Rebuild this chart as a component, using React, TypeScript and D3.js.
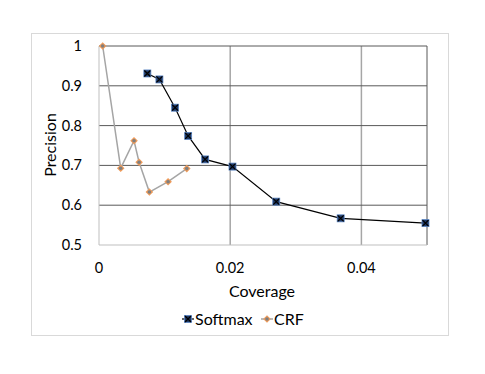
import * as d3 from "d3";

const softmaxX = [0.00737, 0.00921, 0.0116, 0.01359, 0.01618, 0.02035, 0.02702, 0.03684, 0.04977];
const softmaxY = [0.931, 0.916, 0.845, 0.774, 0.715, 0.697, 0.609, 0.567, 0.555];
const crfX = [0.00056, 0.00331, 0.00534, 0.00611, 0.00768, 0.01053, 0.01338];
const crfY = [1.0, 0.693, 0.762, 0.708, 0.633, 0.659, 0.692];
const xTicks = [0, 0.02, 0.04];
const yTicks = [0.5, 0.6, 0.7, 0.8, 0.9, 1];

const width = 485;
const height = 374;
const marginLeft = 99;
const marginRight = 58;
const marginTop = 46;
const marginBottom = 129;
const font = "Lato, 'Open Sans', sans-serif";

export default function App() {
  const x = d3.scaleLinear([0, 0.05], [marginLeft, width - marginRight]);
  const y = d3.scaleLinear([0.5, 1], [height - marginBottom, marginTop]);

  const softmax = softmaxX.map((v, i) => [v, softmaxY[i]] as [number, number]);
  const crf = crfX.map((v, i) => [v, crfY[i]] as [number, number]);
  const line = d3.line<[number, number]>((d) => x(d[0]), (d) => y(d[1]));

  const x0 = x(0), x1 = x(0.05), y0 = y(0.5), y1 = y(1);

  const square = (cx: number, cy: number, key: any) => (
    <g key={key}>
      <rect x={cx - 3.5} y={cy - 3.5} width={7} height={7} fill="#1f3864" stroke="#5b87c5" strokeWidth={0.8} />
      <path d={`M${cx - 3},${cy - 3}L${cx + 3},${cy + 3}M${cx - 3},${cy + 3}L${cx + 3},${cy - 3}`} stroke="#000" strokeWidth={1.2} />
    </g>
  );
  const diamond = (cx: number, cy: number, key: any) => (
    <g key={key}>
      <path d={`M${cx},${cy - 3.8}L${cx + 3.8},${cy}L${cx},${cy + 3.8}L${cx - 3.8},${cy}Z`} fill="#ed9a5a" />
      <circle cx={cx} cy={cy} r={1.8} fill="#7f7f7f" />
    </g>
  );

  return (
    <svg width={width} height={height} style={{ position: "absolute", left: 0, top: 0, background: "#fff" }}>
      <rect x={31.5} y={33.5} width={417} height={302} fill="#fff" stroke="#d9d9d9" />
      {/* vertical gridlines */}
      {xTicks.filter((t) => t > 0).map((t) => (
        <line key={t} x1={x(t)} x2={x(t)} y1={y1} y2={y0} stroke="#a6a6a6" strokeWidth={1.5} />
      ))}
      {/* horizontal gridlines */}
      {yTicks.filter((t) => t > 0.5).map((t) => (
        <line key={t} x1={x0} x2={x1} y1={y(t)} y2={y(t)} stroke="#595959" strokeWidth={1} />
      ))}
      <line x1={x1} x2={x1} y1={y1} y2={y0} stroke="#595959" />
      <line x1={x0} x2={x0} y1={y1} y2={y0} stroke="#bfbfbf" />
      <line x1={x0} x2={x1} y1={y0} y2={y0} stroke="#bfbfbf" />
      {/* y tick labels */}
      {yTicks.map((t) => (
        <text key={t} x={82} y={y(t)} dy="0.35em" textAnchor="end" fontFamily={font} fontSize={14.5} fill="#000">
          {d3.format("")(t)}
        </text>
      ))}
      {xTicks.map((t) => (
        <text key={t} x={x(t)} y={268} dy="0.35em" textAnchor="middle" fontFamily={font} fontSize={14.5} fill="#000">
          {d3.format("")(t)}
        </text>
      ))}
      <text x={262} y={291} dy="0.35em" textAnchor="middle" fontFamily={font} fontSize={16}>Coverage</text>
      <text transform={`translate(50,145) rotate(-90)`} dy="0.35em" textAnchor="middle" fontFamily={font} fontSize={16}>Precision</text>
      {/* series */}
      <path d={line(crf) ?? ""} fill="none" stroke="#a5a5a5" strokeWidth={1.5} />
      <path d={line(softmax) ?? ""} fill="none" stroke="#000" strokeWidth={1.2} />
      {crf.map((d, i) => diamond(x(d[0]), y(d[1]), i))}
      {softmax.map((d, i) => square(x(d[0]), y(d[1]), i))}
      {/* legend */}
      <g>
        <line x1={182} x2={194} y1={319} y2={319} stroke="#000" strokeWidth={1.2} />
        {square(188, 319, "ls")}
        <text x={195} y={319} dy="0.35em" fontFamily={font} fontSize={16}>Softmax</text>
        <line x1={261} x2={273} y1={319} y2={319} stroke="#a5a5a5" strokeWidth={1.5} />
        {diamond(267, 319, "lc")}
        <text x={274} y={319} dy="0.35em" fontFamily={font} fontSize={16}>CRF</text>
      </g>
    </svg>
  );
}
